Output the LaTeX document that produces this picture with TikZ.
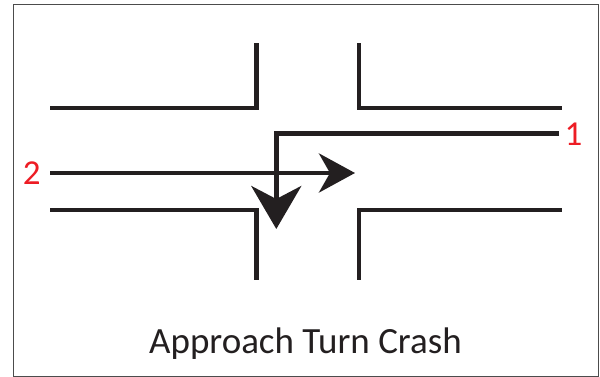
\documentclass[tikz,border=0pt]{standalone}
\usepackage{fontspec}
\setmainfont{Carlito}
\usepackage{xcolor}
\usetikzlibrary{arrows.meta,positioning}
\definecolor{crashred}{HTML}{ED1C24}
\definecolor{roadgray}{HTML}{231F20}

\begin{document}
\begin{tikzpicture}[
    x=1pt, y=-1pt,
    curb/.style={draw=roadgray, line width=4.3pt},
    vehicle/.style={draw=roadgray, line width=4.5pt},
    num/.style={text=crashred, font=\fontsize{35}{42}\selectfont, inner sep=0pt},
    caption/.style={text=roadgray, font=\fontsize{37}{44}\selectfont, inner sep=0pt}
]
    \useasboundingbox (0,0) rectangle (600,377);
    \draw [gray!60!black, line width=1pt] (13.5,5) rectangle (598,376);

    % road edges
    \draw [curb] (50,107.7) -- (256.4,107.7) -- (256.4,43.3);
    \draw [curb] (561.8,107.7) -- (359,107.7) -- (359,43.3);
    \draw [curb] (50,210.3) -- (256.4,210.3) -- (256.4,280);
    \draw [curb] (561.8,210.3) -- (359,210.3) -- (359,280);

    % vehicles
    \node [num] (one) at (573.5,134.7) {1};
    \node [num] (two) at (31.7,173.3) {2};
    \coordinate (start1) at (559,133.7);
    \coordinate (bend1) at (276.3,133.7);
    \coordinate (tip1) at (276.3,229);
    \coordinate (start2) at (50,173);
    \coordinate (tip2) at (355,173);

    \draw [vehicle, -{Stealth[length=43pt, width=50pt, inset=13pt]}] (start1) -- (bend1) -- (tip1);
    \draw [vehicle, -{Stealth[length=36pt, width=39pt, inset=11pt]}] (start2) -- (tip2);

    \node [caption, anchor=base] (title) at (305.5,353) {Approach Turn Crash};
\end{tikzpicture}
\end{document}
